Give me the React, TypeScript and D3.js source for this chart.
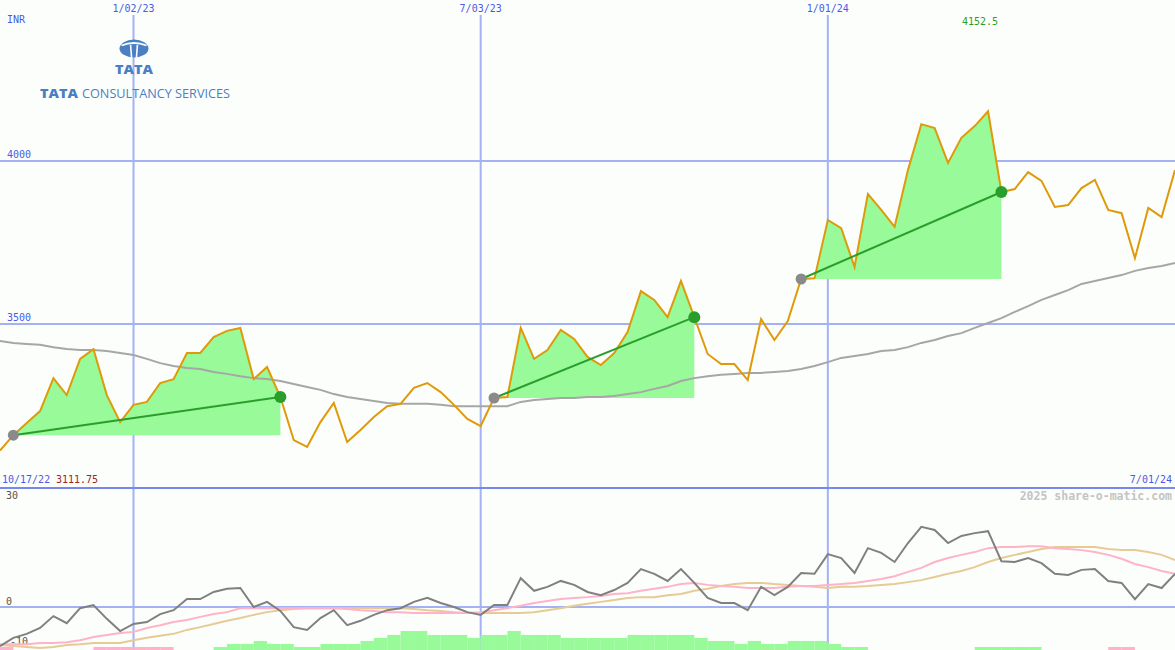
import React from "react";
import * as d3 from "d3";

// ---------- data (weekly, first week 10/24/22) ----------
const START_DATE = new Date(2022, 9, 24);

const prices = [
  3111.75, 3159, 3196, 3233, 3334, 3282, 3393, 3423, 3282, 3199,
  3252, 3261, 3319, 3331, 3411, 3411, 3460, 3479, 3488, 3331,
  3368, 3276, 3144, 3123, 3199, 3258, 3138, 3175, 3215, 3248,
  3255, 3304, 3319, 3291, 3252, 3209, 3187, 3273, 3276, 3488,
  3393, 3420, 3482, 3454, 3399, 3374, 3411, 3475, 3601, 3574,
  3521, 3632, 3521, 3408, 3377, 3377, 3328, 3515, 3451, 3509,
  3638, 3640, 3819, 3794, 3675, 3899, 3850, 3798, 3972, 4113,
  4101, 3994, 4071, 4107, 4152.5, 3905, 3914, 3966, 3939, 3859,
  3865, 3917, 3942, 3850, 3840, 3702, 3856, 3828, 3972,
];

const movingAvg = [
  3448, 3442, 3439, 3436, 3429, 3423, 3420, 3420, 3417, 3411,
  3405, 3393, 3380, 3371, 3365, 3362, 3353, 3347, 3340, 3334,
  3331, 3325, 3316, 3307, 3298, 3285, 3276, 3270, 3264, 3258,
  3255, 3255, 3255, 3252, 3248, 3248, 3248, 3248, 3248, 3261,
  3267, 3270, 3273, 3273, 3276, 3276, 3279, 3285, 3291, 3301,
  3310, 3325, 3334, 3340, 3344, 3347, 3350, 3350, 3353, 3356,
  3362, 3371, 3383, 3396, 3402, 3408, 3417, 3420, 3429, 3442,
  3451, 3463, 3472, 3488, 3503, 3518, 3537, 3555, 3574, 3589,
  3604, 3623, 3632, 3641, 3650, 3663, 3672, 3678, 3687,
];

const oscillator = [
  -9.9, -7.8, -6.8, -5.3, -2.3, -4.1, -0.3, 0.5, -3.0, -6.1,
  -4.3, -3.8, -1.8, -0.8, 2.0, 2.0, 3.8, 4.6, 4.8, 0,
  1.3, -1.0, -5.1, -5.8, -2.8, -0.8, -4.6, -3.5, -2.0, -0.8,
  -0.3, 1.3, 2.3, 1.0, 0, -1.3, -2.0, 0.5, 0.5, 7.3,
  4.1, 5.1, 6.6, 5.6, 3.8, 3.0, 4.3, 6.1, 9.6, 8.4,
  6.6, 9.6, 6.1, 2.3, 1.0, 1.0, -0.8, 5.1, 3.0, 5.1,
  8.6, 8.4, 13.4, 12.4, 8.6, 14.9, 13.7, 11.4, 16.2, 20.3,
  19.5, 16.2, 18.0, 18.7, 19.2, 11.6, 11.4, 12.4, 11.1, 8.4,
  8.1, 9.4, 9.6, 6.6, 6.1, 2.0, 5.8, 4.8, 8.4,
];

const signalFast = [
  -9.4, -9.4, -9.4, -9.1, -9.1, -8.9, -8.4, -7.6, -7.1, -6.6,
  -6.3, -5.3, -4.6, -3.8, -3.3, -2.5, -1.8, -1.3, -0.3, -0.3,
  -0.3, -0.3, -0.3, -0.3, -0.3, -0.3, -0.5, -0.8, -1.0, -1.3,
  -1.3, -1.5, -1.5, -1.5, -1.5, -1.5, -1.3, -0.8, -0.3, 0.3,
  1.0, 1.5, 2.0, 2.3, 2.5, 2.8, 3.3, 3.5, 4.1, 4.6,
  5.1, 5.8, 6.1, 5.6, 5.3, 5.1, 4.8, 4.8, 4.8, 5.1,
  5.3, 5.3, 5.6, 5.8, 6.1, 6.6, 7.1, 7.8, 8.9, 9.9,
  11.4, 12.4, 13.2, 13.9, 14.9, 15.2, 15.2, 15.4, 15.4, 14.9,
  14.7, 14.4, 13.9, 13.2, 12.2, 10.9, 10.1, 9.1, 8.4,
];

const signalSlow = [
  -9.6, -9.9, -10.1, -10.4, -10.1, -9.6, -9.4, -9.1, -9.1, -9.1,
  -8.4, -7.8, -7.3, -6.8, -5.8, -5.1, -4.3, -3.5, -2.8, -2.0,
  -1.3, -0.8, -0.5, -0.3, -0.3, -0.3, -0.3, -0.3, -0.3, -0.3,
  -0.3, -0.5, -0.8, -1.0, -1.3, -1.5, -1.5, -1.5, -1.5, -1.5,
  -1.3, -0.8, -0.3, 0.3, 0.8, 1.3, 1.8, 2.3, 2.5, 2.5,
  3.0, 3.3, 4.1, 4.6, 5.3, 5.8, 6.1, 6.1, 5.8, 5.6,
  5.3, 5.1, 4.8, 5.1, 5.1, 5.3, 5.6, 5.8, 6.3, 6.8,
  7.6, 8.4, 9.1, 10.1, 11.4, 12.4, 13.2, 13.9, 14.7, 15.2,
  15.2, 15.2, 15.2, 14.7, 14.4, 14.4, 13.9, 13.2, 11.9,
];

const histogram = [
  -1, 0, 0, 0, 0, 0, 0, -1, -1, -1,
  -1, -1, -1, 0, 0, 0, 1, 2, 2, 3,
  2, 2, 1, 1, 2, 2, 2, 3, 4, 5,
  6.3, 6.3, 5, 5, 5, 4, 5, 5, 6.3, 5,
  5, 5, 4, 4, 4, 4, 4, 5, 5, 5,
  5, 5, 4, 3, 3, 2, 3, 2, 2, 3,
  3, 3, 2, 1, 1, 0, 0, 0, 0, 0,
  0, 0, 0, 1, 1, 1, 1, 1, 0, 0,
  0, 0, 0, -1, -1, 0, 0, 0, 0,
];

// signal periods: [start index, end index]
const signals: [number, number][] = [
  [1, 21],
  [37, 52],
  [60, 75],
];

const gridDates = [new Date(2023, 0, 2), new Date(2023, 6, 3), new Date(2024, 0, 1)];
const gridDateLabels = ["1/02/23", "7/03/23", "1/01/24"];
const priceTicks = [3500, 4000];
const lowerTicks = [30, 0, -10];
const firstDateLabel = "10/17/22";
const lastDateLabel = "7/01/24";
const minLabel = "3111.75";
const maxLabel = "4152.5";

// ---------- layout ----------
const W = 1175;
const H = 650;
const SEP_Y = 488;

const C = {
  bg: "#fcfefc",
  grid: "#a4b2f4",
  sep: "#7888ee",
  label: "#4a5ae8",
  price: "#df9a0a",
  ma: "#a6a6a6",
  osc: "#808080",
  pink: "#ffb3c8",
  tan: "#e6cb96",
  fill: "#98fa98",
  trend: "#2a9e2a",
  startDot: "#8a8a8a",
  logo: "#4a7fc4",
};

const MONO = "'DejaVu Sans Mono', 'Liberation Mono', monospace";
const LOGO_FONT = "'Open Sans', 'Noto Sans', sans-serif";

export default function App() {
  const dates = prices.map((_, i) => d3.timeWeek.offset(START_DATE, i));
  const x = d3.scaleTime().domain([dates[0], dates[dates.length - 1]]).range([0, W]);
  const yP = d3.scaleLinear().domain([3500, 4000]).range([324, 161]);
  const yL = d3.scaleLinear().domain([0, 30]).range([607, 488.5]);
  const hScale = d3.scaleLinear().domain([0, 6.3]).range([0, 19]);

  const xi = (i: number) => x(dates[i]);

  const priceLine = d3.line<number>().x((_, i) => xi(i)).y((v) => yP(v));
  const lowerLine = d3.line<number>().x((_, i) => xi(i)).y((v) => yL(v));

  const step = xi(1) - xi(0);

  return (
    <svg
      width={W}
      height={H}
      style={{ position: "absolute", left: 0, top: 0, display: "block", background: C.bg }}
    >
      <rect x={0} y={0} width={W} height={H} fill={C.bg} />

      {/* vertical date grid */}
      {gridDates.map((d, i) => (
        <g key={"vd" + i}>
          <line x1={x(d)} x2={x(d)} y1={15} y2={H} stroke={C.grid} strokeWidth={2} />
          <text
            x={x(d)}
            y={12}
            textAnchor="middle"
            fontFamily={MONO}
            fontSize={10}
            fill={C.label}
          >
            {gridDateLabels[i]}
          </text>
        </g>
      ))}

      {/* horizontal price grid */}
      {priceTicks.map((t) => (
        <g key={"pt" + t}>
          <line x1={0} x2={W} y1={yP(t)} y2={yP(t)} stroke={C.grid} strokeWidth={2} />
          <text x={7} y={yP(t) - 3} fontFamily={MONO} fontSize={10} fill={C.label}>
            {t}
          </text>
        </g>
      ))}

      <text x={7} y={23} fontFamily={MONO} fontSize={10} fill={C.label}>
        INR
      </text>

      {/* logo */}
      <g>
        <ellipse cx={134} cy={48.5} rx={14.5} ry={9} fill={C.logo} />
        <path
          d="M121.5,45.5 Q134,40.5 146.5,45.5"
          fill="none"
          stroke={C.bg}
          strokeWidth={1.8}
        />
        <path d="M130.6,45 L131.6,58" stroke={C.bg} strokeWidth={1.6} />
        <path d="M137.4,45 L136.4,58" stroke={C.bg} strokeWidth={1.6} />
        <text
          x={115}
          y={73.5}
          fontFamily={LOGO_FONT}
          fontWeight={800}
          fontSize={12.5}
          fill={C.logo}
          textLength={38}
          lengthAdjust="spacingAndGlyphs"
        >
          TATA
        </text>
        <text
          x={40}
          y={98}
          fontFamily={LOGO_FONT}
          fontWeight={800}
          fontSize={12.5}
          fill={C.logo}
          textLength={38}
          lengthAdjust="spacingAndGlyphs"
        >
          TATA
        </text>
        <text
          x={82}
          y={98}
          fontFamily={LOGO_FONT}
          fontWeight={500}
          fontSize={12.5}
          fill={C.logo}
          textLength={148}
          lengthAdjust="spacingAndGlyphs"
        >
          CONSULTANCY SERVICES
        </text>
      </g>

      {/* signal fills */}
      {signals.map(([s, e], k) => {
        const idx = d3.range(s, e + 1);
        const base = yP(prices[s]);
        const area = d3
          .area<number>()
          .x((i) => xi(i))
          .y0(base)
          .y1((i) => Math.min(yP(prices[i]), base));
        return <path key={"fill" + k} d={area(idx) || ""} fill={C.fill} />;
      })}

      {/* moving average */}
      <path d={priceLine(movingAvg) || ""} fill="none" stroke={C.ma} strokeWidth={2} />

      {/* price */}
      <path d={priceLine(prices) || ""} fill="none" stroke={C.price} strokeWidth={2} />

      {/* trend lines and dots */}
      {signals.map(([s, e], k) => (
        <g key={"sig" + k}>
          <line
            x1={xi(s)}
            y1={yP(prices[s])}
            x2={xi(e)}
            y2={yP(prices[e])}
            stroke={C.trend}
            strokeWidth={2}
          />
          <circle cx={xi(s)} cy={yP(prices[s])} r={5.5} fill={C.startDot} />
          <circle cx={xi(e)} cy={yP(prices[e])} r={6} fill={C.trend} />
        </g>
      ))}

      <text x={962} y={25} fontFamily={MONO} fontSize={10} fill="#2a9e2a">
        {maxLabel}
      </text>

      {/* separator and bottom labels */}
      <line x1={0} x2={W} y1={SEP_Y} y2={SEP_Y} stroke={C.sep} strokeWidth={2} />
      <text x={2} y={483} fontFamily={MONO} fontSize={10} fill={C.label}>
        {firstDateLabel}
      </text>
      <text x={56} y={483} fontFamily={MONO} fontSize={10} fill="#a02424">
        {minLabel}
      </text>
      <text x={1172} y={483} textAnchor="end" fontFamily={MONO} fontSize={10} fill={C.label}>
        {lastDateLabel}
      </text>
      <text
        x={1172}
        y={500}
        textAnchor="end"
        fontFamily={MONO}
        fontWeight="bold"
        fontSize={11.5}
        fill="#c4c4c4"
      >
        2025 share-o-matic.com
      </text>

      {/* lower panel */}
      <line x1={0} x2={W} y1={yL(0)} y2={yL(0)} stroke={C.grid} strokeWidth={2} />
      {lowerTicks.map((t) => (
        <text
          key={"lt" + t}
          x={t < 0 ? 10 : 6}
          y={Math.min(Math.max(yL(t) - 2, 499), 647)}
          fontFamily={MONO}
          fontSize={10}
          fill="#555"
        >
          {t}
        </text>
      ))}

      {/* histogram */}
      {histogram.map((v, i) =>
        v === 0 ? null : (
          <rect
            key={"h" + i}
            x={xi(i)}
            y={H - hScale(Math.abs(v))}
            width={step}
            height={hScale(Math.abs(v))}
            fill={v > 0 ? C.fill : C.pink}
          />
        )
      )}

      <path d={lowerLine(signalSlow) || ""} fill="none" stroke={C.tan} strokeWidth={2} />
      <path d={lowerLine(signalFast) || ""} fill="none" stroke={C.pink} strokeWidth={2} />
      <path d={lowerLine(oscillator) || ""} fill="none" stroke={C.osc} strokeWidth={2} />
    </svg>
  );
}
